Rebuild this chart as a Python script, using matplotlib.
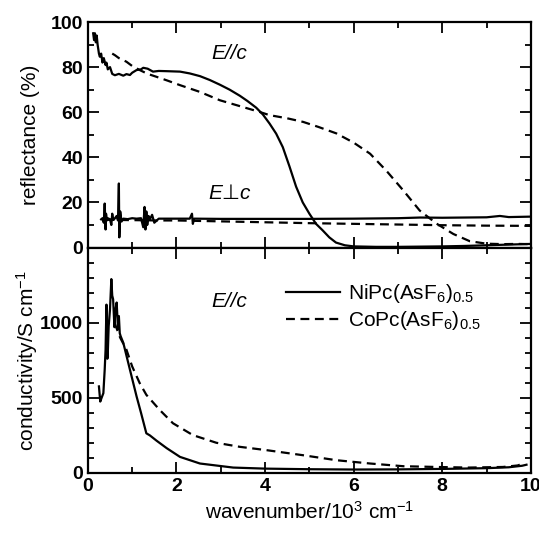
import numpy as np
import matplotlib.pyplot as plt
from matplotlib.ticker import MultipleLocator

plt.rcParams['font.family'] = ['Liberation Sans', 'DejaVu Sans']
plt.rcParams['mathtext.fontset'] = 'custom'
plt.rcParams['mathtext.rm'] = 'Liberation Sans'
plt.rcParams['mathtext.it'] = 'Liberation Sans:italic'

# reflectance, E//c
ni_par_x = [0.12, 0.14, 0.16, 0.18, 0.2, 0.22, 0.25, 0.27, 0.3, 0.33, 0.36, 0.4, 0.42, 0.45, 0.5,
            0.55, 0.61, 0.7, 0.8, 0.87, 0.95, 1.0, 1.1, 1.2, 1.25, 1.35, 1.47, 1.6, 1.78, 2.08,
            2.3, 2.53, 2.75, 2.98, 3.2, 3.43, 3.6, 3.8, 3.95, 4.1, 4.25, 4.4, 4.55,
            4.7, 4.85, 5.0, 5.15, 5.3, 5.45, 5.6, 5.8, 6.0, 6.5, 7.0, 7.5, 8.0, 8.5, 9.0, 9.5, 10.0]
ni_par_y = [95, 92, 95, 91, 94, 90, 86, 84.6, 86, 82, 84, 80.9, 82, 79, 80,
            77, 76.4, 77, 76.2, 76.9, 76.5, 77.5, 78.7, 79, 79.7, 79.3, 78, 78.3, 78.2, 78,
            77.2, 76, 74.3, 72.2, 70, 67.3, 65, 62, 59, 55, 50.5, 44.5, 36,
            27, 20, 15, 10.5, 7.6, 4.5, 2.2, 1.0, 0.5, 0.3, 0.3, 0.4, 0.5, 0.7, 1.0, 1.3, 1.6]
co_par_x = [0.55, 0.61, 0.7, 0.87, 1.0, 1.17, 1.35, 1.55, 1.8, 2.08, 2.53, 2.98, 3.43, 3.88, 4.1,
            4.5, 4.86, 5.2, 5.61, 6.0, 6.37, 6.74, 7.12, 7.49, 7.87, 8.25, 8.62, 9.0, 9.37, 9.7, 10.0]
co_par_y = [86, 85.3, 84, 82.4, 80.5, 78.7, 77, 75.7, 74, 72, 69, 65.3, 62.7, 60.1, 58.7,
            57.3, 55.7, 53.5, 50.6, 46.5, 41.6, 34, 25.3, 16.4, 10.6, 6, 2.8, 1.7, 1.5, 1.6, 1.5]

# reflectance, E perp c
ni_perp_x = [0.3, 0.33, 0.36, 0.38, 0.4, 0.41, 0.43, 0.45, 0.5, 0.53, 0.55, 0.57, 0.6, 0.65, 0.68,
             0.7, 0.71, 0.73, 0.76, 0.8, 0.9, 1.0, 1.1, 1.2, 1.25, 1.28, 1.3, 1.32, 1.34, 1.37,
             1.4, 1.45, 1.5, 1.6, 2.0, 2.3, 2.35, 2.37, 2.4, 3.0, 4.0, 5.0, 6.0, 7.0, 7.5, 8.0,
             9.0, 9.3, 9.5, 10.0]
ni_perp_y = [12.5, 13, 11, 19.5, 8, 15, 12, 13, 12.5, 10, 15, 12.5, 12.7, 14, 12,
             28.4, 4.5, 16, 11.5, 12.8, 12.6, 13, 12.8, 13, 9, 18, 8, 16, 10, 14,
             12.5, 14.5, 11, 12.8, 12.8, 12.8, 15, 10.5, 12.8, 12.7, 12.7, 12.7, 12.8, 13, 13.3, 13.2,
             13.4, 14, 13.5, 13.7]
co_perp_x = [0.4, 0.8, 1.2, 1.6, 2.0, 2.5, 3.0, 4.0, 5.0, 6.0, 7.0, 8.0, 9.0, 10.0]
co_perp_y = [12.3, 12.2, 12.1, 12, 12, 11.8, 11.6, 11.2, 10.8, 10.5, 10.2, 9.9, 9.7, 9.6]

# conductivity, E//c
ni_sig_x = [0.25, 0.28, 0.31, 0.35, 0.38, 0.4, 0.42, 0.44, 0.45, 0.47, 0.5, 0.53, 0.55, 0.57,
            0.6, 0.62, 0.65, 0.68, 0.7, 0.72, 0.74, 0.8, 0.95, 1.1, 1.2, 1.32, 1.4, 1.55, 1.78,
            2.08, 2.53, 3.28, 4.0, 5.0, 6.0, 7.0, 8.0, 9.0, 9.5, 9.8, 9.9]
ni_sig_y = [576, 475, 500, 531, 687, 821, 1120, 760, 800, 977, 1089, 1290, 1180, 1156,
            970, 1080, 1134, 960, 1044, 930, 910, 866, 687, 509, 400, 264, 250, 215, 165,
            107, 63, 36, 29, 25, 23, 24, 27, 32, 38, 48, 55]
co_sig_x = [0.6, 0.73, 0.87, 1.0, 1.17, 1.32, 1.62, 1.92, 2.37, 2.9, 3.43, 4.03, 4.86, 5.61, 6.37,
            7.12, 7.87, 8.6, 9.37, 9.7, 9.83]
co_sig_y = [1000, 900, 821, 709, 598, 520, 420, 331, 252, 201, 174, 152, 118, 85, 63,
            45, 40, 36, 40, 50, 63]

fig = plt.figure(figsize=(5.39, 5.33), dpi=100)
ax1 = fig.add_axes([0.163, 0.5356, 0.822, 0.4231])
ax2 = fig.add_axes([0.163, 0.1126, 0.822, 0.4230])

lw = 1.6
dash = (0, (4, 2.5))
ax1.plot(ni_par_x, ni_par_y, color='black', lw=lw)
ax1.plot(co_par_x, co_par_y, color='black', lw=lw, linestyle=dash)
ax1.plot(ni_perp_x, ni_perp_y, color='black', lw=lw)
ax1.plot(co_perp_x, co_perp_y, color='black', lw=lw, linestyle=dash)

ax2.plot(ni_sig_x, ni_sig_y, color='black', lw=lw, label='NiPc(AsF$_6$)$_{0.5}$')
ax2.plot(co_sig_x, co_sig_y, color='black', lw=lw, linestyle=dash, label='CoPc(AsF$_6$)$_{0.5}$')

for ax in (ax1, ax2):
    ax.set_xlim(0, 10)
    ax.xaxis.set_major_locator(MultipleLocator(2))
    ax.xaxis.set_minor_locator(MultipleLocator(1))
    ax.tick_params(which='both', direction='in', top=True, right=True, width=1.3)
    ax.tick_params(which='major', length=8, labelsize=14)
    ax.tick_params(which='minor', length=4)
    for s in ax.spines.values():
        s.set_linewidth(1.6)

ax1.set_ylim(0, 100)
ax1.yaxis.set_major_locator(MultipleLocator(20))
ax1.yaxis.set_minor_locator(MultipleLocator(10))
ax1.tick_params(labelbottom=False)
ax1.set_ylabel('reflectance (%)', fontsize=15, labelpad=8)
ax1.text(3.2, 86, 'E//c', fontsize=15, style='italic', ha='center', va='center')
ax1.text(3.2, 24, 'E\u22a5c', fontsize=15, style='italic', ha='center', va='center')

ax2.set_ylim(0, 1500)
ax2.set_yticks([0, 500, 1000])
ax2.yaxis.set_minor_locator(MultipleLocator(100))
ax2.set_ylabel('conductivity/S cm$^{-1}$', fontsize=15, labelpad=0)
ax2.set_xlabel('wavenumber/10$^3$ cm$^{-1}$', fontsize=15)
ax2.text(3.2, 1140, 'E//c', fontsize=15, style='italic', ha='center', va='center')
ax2.legend(loc='upper right', bbox_to_anchor=(0.93, 0.93), frameon=False, fontsize=15,
           handlelength=2.6, handletextpad=0.4, labelspacing=0.2)

for lab in ax1.get_yticklabels() + ax2.get_yticklabels() + ax2.get_xticklabels():
    lab.set_fontweight('bold')

fig.savefig('out.png', dpi=100)
